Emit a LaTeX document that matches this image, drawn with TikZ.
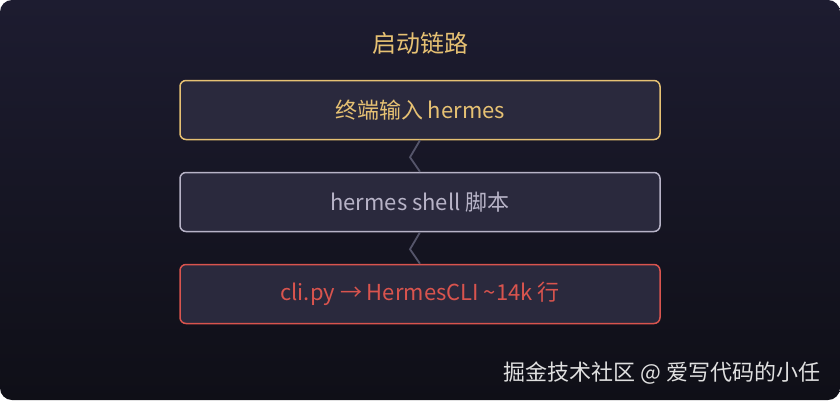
\documentclass[tikz,border=0pt]{standalone}
\usepackage{fontspec}
\setmainfont{Noto Sans CJK SC}
\definecolor{bgtop}{HTML}{1D1C30}
\definecolor{bgbot}{HTML}{0F0F17}
\definecolor{boxfill}{HTML}{2A293D}
\definecolor{goldline}{HTML}{E6C173}
\definecolor{greyline}{HTML}{B7B3C7}
\definecolor{redline}{HTML}{D9544E}
\definecolor{linkline}{HTML}{55556A}
\tikzset{
    stagebox/.style={draw,rounded corners=6pt,line width=1.5pt,fill=boxfill,
        minimum width=480pt,minimum height=59pt,font=\fontsize{22}{26}\selectfont},
    link/.style={draw=linkline,line width=1.8pt}
}
\begin{document}
\begin{tikzpicture}[x=1pt,y=1pt]
    \fill[white] (0,0) rectangle (840,400);
    \shade[top color=bgtop,bottom color=bgbot,rounded corners=12pt] (0,0) rectangle (840,400);
    \useasboundingbox (0,0) rectangle (840,400);

    \node[text=goldline,font=\fontsize{24}{28}\selectfont] (title) at (420,357) {启动链路};

    \node[stagebox,draw=goldline,text=goldline] (term) at (420,290) {终端输入 hermes};
    \node[stagebox,draw=greyline,text=greyline] (shell) at (420,198) {hermes shell 脚本};
    \node[stagebox,draw=redline,text=redline] (cli) at (420,106) {cli.py → HermesCLI \textasciitilde14k 行};

    \draw[link] (term.south) -- ++(-10,-17) -- (shell.north);
    \draw[link] (shell.south) -- ++(-10,-17) -- (cli.north);

    \node[anchor=east,text=white!88!black,font=\fontsize{22}{26}\selectfont] (mark) at (824,27) {掘金技术社区 @ 爱写代码的小任};
\end{tikzpicture}
\end{document}
